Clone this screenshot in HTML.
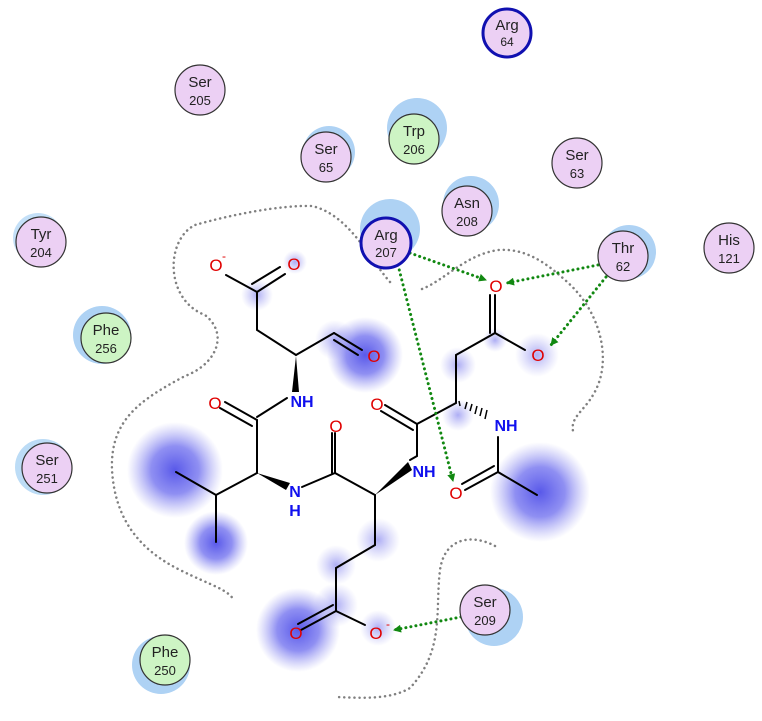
<!DOCTYPE html>
<html><head><meta charset="utf-8"><style>
html,body{margin:0;padding:0;background:#fff}
svg{display:block}
text{font-family:"Liberation Sans",Arial,sans-serif}
</style></head><body>
<svg width="762" height="721" viewBox="0 0 762 721" xmlns="http://www.w3.org/2000/svg">
<defs>
<radialGradient id="h"><stop offset="0" stop-color="#5050e8" stop-opacity="0.95"/><stop offset="0.5" stop-color="#6a6aee" stop-opacity="0.75"/><stop offset="1" stop-color="#9090f0" stop-opacity="0"/></radialGradient>
<radialGradient id="hs"><stop offset="0" stop-color="#7777ee" stop-opacity="0.6"/><stop offset="1" stop-color="#9999f0" stop-opacity="0"/></radialGradient>
<marker id="a" markerWidth="8" markerHeight="8" refX="7" refY="4" orient="auto" markerUnits="userSpaceOnUse"><path d="M0,0 L8,4 L0,8 Z" fill="#118811"/></marker>
</defs>
<!-- halos -->
<circle cx="175" cy="470" r="48" fill="url(#h)"/>
<circle cx="216" cy="543" r="32" fill="url(#h)"/>
<circle cx="365" cy="355" r="38" fill="url(#h)"/>
<circle cx="540" cy="492" r="50" fill="url(#h)"/>
<circle cx="298" cy="630" r="42" fill="url(#h)"/>
<circle cx="336" cy="605" r="22" fill="url(#hs)"/>
<circle cx="336" cy="565" r="20" fill="url(#hs)"/>
<circle cx="378" cy="540" r="22" fill="url(#hs)"/>
<circle cx="537" cy="355" r="22" fill="url(#hs)"/>
<circle cx="378" cy="628" r="18" fill="url(#hs)"/>
<circle cx="458" cy="365" r="18" fill="url(#hs)"/>
<circle cx="458" cy="415" r="16" fill="url(#hs)"/>
<circle cx="335" cy="340" r="20" fill="url(#hs)"/>
<circle cx="257" cy="295" r="16" fill="url(#hs)"/>
<circle cx="295" cy="262" r="12" fill="url(#hs)"/>
<circle cx="495" cy="340" r="12" fill="url(#hs)"/>
<!-- contours -->
<g fill="none" stroke="#808080" stroke-width="2.5" stroke-dasharray="0.1 5" stroke-linecap="round">
<path d="M390,282 C370,260 350,215 312,206 C280,205 230,215 195,225 C165,240 165,300 205,315 C230,335 215,365 185,376 C140,400 110,420 112,470 C115,520 140,550 180,570 C210,585 230,590 234,601"/>
<path d="M422,289 C445,280 465,255 498,250 C525,248 545,262 565,280 C600,310 610,355 598,385 C588,410 570,415 573,431"/>
<path d="M495,546 C475,535 445,535 440,570 C435,610 445,650 410,688 C390,700 360,698 337,697"/>
</g>
<!-- residue halos -->
<g fill="#aed2f4">
<circle cx="417" cy="128" r="30"/><circle cx="329" cy="152" r="26"/><circle cx="471" cy="204" r="28"/>
<circle cx="390" cy="229" r="30"/><circle cx="629" cy="252" r="27"/><circle cx="38" cy="238" r="25" fill="#c4e0f8"/>
<circle cx="102" cy="335" r="29"/><circle cx="43" cy="467" r="28" fill="#bcdcf6"/><circle cx="161" cy="665" r="29"/>
<circle cx="494" cy="617" r="29"/>
</g>
<!-- bonds -->
<g stroke="#000" stroke-width="2" fill="none" stroke-linecap="round">
<path d="M226,275 L257,292 L257,330 L296,355"/>
<path d="M257,292 L285,274 M252,284 L280,267"/>
<path d="M296,355 L334,333"/>
<path d="M334,333 L362,350 M334,340 L358,355"/>
<path d="M287,398 L257,417"/>
<path d="M257,420 L225,402 M252,426 L220,408"/>
<path d="M257,420 L257,473"/>
<path d="M216,495 L176,472 M216,495 L216,542 M216,495 L257,473"/>
<path d="M302,487 L335,473 L375,495"/>
<path d="M335,473 L335,433 M332,473 L332,433" />
<path d="M375,495 L375,545 L336,568 L336,611"/>
<path d="M336,611 L301,630 M333,605 L298,624"/>
<path d="M336,611 L365,625"/>
<path d="M410,460 L417,456 L417,424 L456,403"/>
<path d="M417,424 L385,405 M413,430 L381,411"/>
<path d="M456,403 L456,355 L495,333 L495,295 M490,333 L490,295"/>
<path d="M495,333 L525,350"/>
<path d="M498,437 L498,472 L537,495"/>
<path d="M498,472 L465,490 M494,466 L462,484"/>
</g>
<!-- wedges -->
<path d="M296,356 L292,392 L299,392 Z" fill="#000"/>
<path d="M257,473 L290,483 L286,490 Z" fill="#000"/>
<path d="M375,495 L408,462 L412,470 Z" fill="#000"/>
<g stroke="#000" stroke-width="1.5">
<path d="M460,406 L459,401 M465,409 L467,402 M470,411 L472,404 M475,414 L477,406 M480,416 L482,408 M485,419 L487,410"/>
</g>
<!-- atom labels -->
<g font-size="17" text-anchor="middle">
<text x="216" y="271" fill="#e00000">O</text><text x="224" y="260" fill="#e00000" font-size="12">-</text>
<text x="294" y="270" fill="#e00000">O</text>
<text x="374" y="362" fill="#e00000">O</text>
<text x="215" y="409" fill="#e00000">O</text>
<text x="336" y="432" fill="#e00000">O</text>
<text x="377" y="410" fill="#e00000">O</text>
<text x="496" y="292" fill="#e00000">O</text>
<text x="538" y="361" fill="#e00000">O</text>
<text x="456" y="499" fill="#e00000">O</text>
<text x="296" y="639" fill="#e00000">O</text>
<text x="376" y="639" fill="#e00000">O</text><text x="388" y="628" fill="#e00000" font-size="12">-</text>
<g fill="#1010ee" font-weight="bold" font-size="16">
<text x="302" y="407">NH</text>
<text x="295" y="497">N</text><text x="295" y="516">H</text>
<text x="424" y="477">NH</text>
<text x="506" y="431">NH</text>
</g>
</g>
<!-- H-bonds -->
<g stroke="#118811" stroke-width="3" stroke-dasharray="0.1 5" stroke-linecap="round" fill="none">
<line x1="410" y1="253" x2="486" y2="280" marker-end="url(#a)"/>
<line x1="598" y1="265" x2="507" y2="283" marker-end="url(#a)"/>
<line x1="606" y1="277" x2="551" y2="345" marker-end="url(#a)"/>
<line x1="398" y1="265" x2="453" y2="481" marker-end="url(#a)"/>
<line x1="461" y1="617" x2="394" y2="630" marker-end="url(#a)"/>
</g>
<!-- residues -->
<g stroke="#333" stroke-width="1.2">
<circle cx="507" cy="33" r="24" fill="#ecd0f4" stroke="#1010b0" stroke-width="3"/>
<circle cx="200" cy="90" r="25" fill="#ecd0f4"/>
<circle cx="326" cy="157" r="25" fill="#ecd0f4"/>
<circle cx="414" cy="139" r="25" fill="#cdf4c4"/>
<circle cx="577" cy="163" r="25" fill="#ecd0f4"/>
<circle cx="467" cy="211" r="25" fill="#ecd0f4"/>
<circle cx="386" cy="243" r="25" fill="#ecd0f4" stroke="#1010b0" stroke-width="3"/>
<circle cx="623" cy="256" r="25" fill="#ecd0f4"/>
<circle cx="729" cy="248" r="25" fill="#ecd0f4"/>
<circle cx="41" cy="242" r="25" fill="#ecd0f4"/>
<circle cx="106" cy="338" r="25" fill="#cdf4c4"/>
<circle cx="47" cy="468" r="25" fill="#ecd0f4"/>
<circle cx="165" cy="660" r="25" fill="#cdf4c4"/>
<circle cx="485" cy="610" r="25" fill="#ecd0f4"/>
</g>
<g font-size="15" text-anchor="middle" fill="#222">
<text x="507" y="30">Arg</text><text x="507" y="46" font-size="12">64</text>
<text x="200" y="87">Ser</text><text x="200" y="105" font-size="13">205</text>
<text x="326" y="154">Ser</text><text x="326" y="172" font-size="13">65</text>
<text x="414" y="136">Trp</text><text x="414" y="154" font-size="13">206</text>
<text x="577" y="160">Ser</text><text x="577" y="178" font-size="13">63</text>
<text x="467" y="208">Asn</text><text x="467" y="226" font-size="13">208</text>
<text x="386" y="240">Arg</text><text x="386" y="257" font-size="13">207</text>
<text x="623" y="253">Thr</text><text x="623" y="271" font-size="13">62</text>
<text x="729" y="245">His</text><text x="729" y="263" font-size="13">121</text>
<text x="41" y="239">Tyr</text><text x="41" y="257" font-size="13">204</text>
<text x="106" y="335">Phe</text><text x="106" y="353" font-size="13">256</text>
<text x="47" y="465">Ser</text><text x="47" y="483" font-size="13">251</text>
<text x="165" y="657">Phe</text><text x="165" y="675" font-size="13">250</text>
<text x="485" y="607">Ser</text><text x="485" y="625" font-size="13">209</text>
</g>
</svg>
</body></html>
